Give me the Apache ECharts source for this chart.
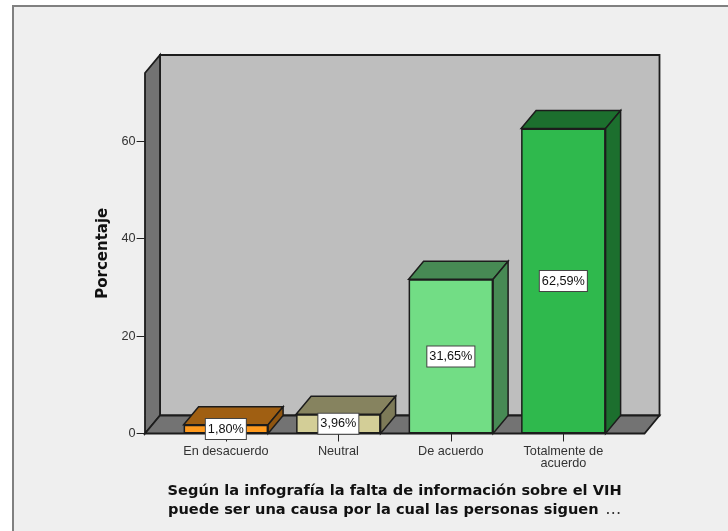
<!DOCTYPE html>
<html><head><meta charset="utf-8">
<style>html,body{margin:0;padding:0;background:#fff}#c{width:728px;height:531px}</style>
<script src="https://cdn.jsdelivr.net/npm/echarts@6/dist/echarts.min.js"></script>
</head><body><div id="c"></div>
<script>
const categories = ['En desacuerdo', 'Neutral', 'De acuerdo', 'Totalmente de\nacuerdo'];
const values = [1.80, 3.96, 31.65, 62.59];
const valueLabels = ['1,80%', '3,96%', '31,65%', '62,59%'];
const yTicks = [0, 20, 40, 60];
const frontColors = ['#FF9A1E', '#D3CE97', '#72DD85', '#2FB94D'];
const topColors = ['#A05F12', '#86835F', '#478A54', '#1C6F2E'];
const sideColors = ['#8F5510', '#7D7A58', '#478A54', '#1C6F2E'];

const DX = 15, DY = -18, BAR_W = 84.5, EDGE = '#1c1c1c';
const chart = echarts.init(document.getElementById('c'), null, {renderer: 'canvas'});

function wallsItem(params, api) {
  if (params.dataIndex !== 0) return null;
  const o = api.coord([0, 0]);
  const t = api.coord([0, 74]);
  const x0 = 145, x1 = 644.5, yb = o[1], yt = t[1];
  const st = {stroke: EDGE, lineWidth: 1.8, lineJoin: 'miter'};
  const poly = (pts, fill) => ({type: 'polygon', shape: {points: pts}, style: Object.assign({fill}, st)});
  return {type: 'group', children: [
    poly([[x0+DX,yb+DY],[x1+DX,yb+DY],[x1+DX,yt+DY],[x0+DX,yt+DY]], '#BEBEBE'),
    poly([[x0,yb],[x0+DX,yb+DY],[x0+DX,yt+DY],[x0,yt]], '#737373'),
    poly([[x0,yb],[x1,yb],[x1+DX,yb+DY],[x0+DX,yb+DY]], '#737373')
  ]};
}
function boxItem(params, api) {
  const i = params.dataIndex;
  const p = api.coord([api.value(0), api.value(1)]);
  const b = api.coord([api.value(0), 0]);
  const l = p[0] - BAR_W/2, r = p[0] + BAR_W/2;
  const st = c => ({fill: c, stroke: EDGE, lineWidth: 1.5});
  return {type: 'group', children: [
    {type:'polygon', shape:{points:[[l,p[1]],[r,p[1]],[r+DX,p[1]+DY],[l+DX,p[1]+DY]]}, style: st(topColors[i])},
    {type:'polygon', shape:{points:[[r,p[1]],[r+DX,p[1]+DY],[r+DX,b[1]+DY],[r,b[1]]]}, style: st(sideColors[i])}
  ]};
}

chart.setOption({
  animation: false,
  backgroundColor: '#fff',
  graphic: [{type:'rect', z:-10, shape:{x:13,y:6,width:730,height:540}, style:{fill:'#EFEFEF',stroke:'#808080',lineWidth:2}}],
  grid: {left: 169.6, width: 450, top: 73, height: 360.5},
  xAxis: {
    type: 'category', data: categories,
    axisLine: {show: false},
    axisTick: {show: true, alignWithLabel: true, length: 8, lineStyle: {color: '#222', width: 1}},
    axisLabel: {color: '#333', fontFamily: 'Liberation Sans', fontSize: 12.7, margin: 12, lineHeight: 12, interval: 0},
    name: '{b|Según la infografía la falta de información sobre el VIH}\n{b|puede ser una causa por la cual las personas siguen}  {d|…}',
    nameLocation: 'middle', nameGap: 49,
    nameTextStyle: {rich: {
      b: {fontFamily: 'DejaVu Sans', fontWeight: 'bold', fontSize: 14.6, lineHeight: 18.3, color: '#111'},
      d: {fontFamily: 'DejaVu Sans', fontSize: 16, lineHeight: 18.3, color: '#333'}
    }}
  },
  yAxis: {
    type: 'value', min: 0, max: 74, offset: 25,
    splitLine: {show: false},
    axisLine: {show: false},
    axisTick: {show: true, length: 8, customValues: yTicks, lineStyle: {color: '#222', width: 1}},
    axisLabel: {color: '#333', fontFamily: 'Liberation Sans', fontSize: 12.7, margin: 9, customValues: yTicks},
    name: 'Porcentaje', nameLocation: 'middle', nameGap: 33,
    nameTextStyle: {fontFamily: 'DejaVu Sans', fontWeight: 'bold', fontSize: 15, color: '#111'}
  },
  series: [
    {type: 'custom', z: 1, silent: true, data: values.map((v, i) => [i, v]), renderItem: wallsItem, encode: {x: 0, y: 1}},
    {type: 'custom', z: 2, silent: true, data: values.map((v, i) => [i, v]), renderItem: boxItem, encode: {x: 0, y: 1}},
    {type: 'bar', z: 3, barWidth: BAR_W, silent: true,
     data: values.map((v, i) => ({value: v, itemStyle: {color: frontColors[i], borderColor: EDGE, borderWidth: 1.5}})),
     label: {show: true, position: 'inside', formatter: p => valueLabels[p.dataIndex],
       color: '#111', fontFamily: 'Liberation Sans', fontSize: 12.7,
       backgroundColor: '#fff', borderColor: '#444', borderWidth: 1, padding: [4, 2, 3, 2]}}
  ]
});
</script></body></html>
